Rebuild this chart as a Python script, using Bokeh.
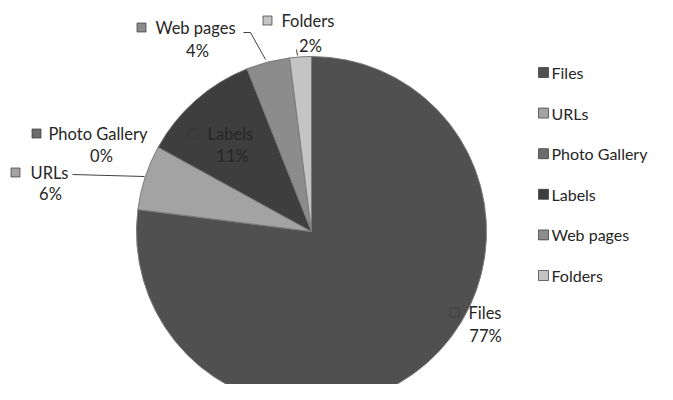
import numpy as np
from bokeh.plotting import figure
from bokeh.models import Range1d, ColumnDataSource
from bokeh.core.properties import value
from bokeh.embed import file_html
from bokeh.resources import INLINE

# ---- data ----
categories = ["Files", "URLs", "Photo Gallery", "Labels", "Web pages", "Folders"]
shares = [77, 6, 0, 11, 4, 2]
pct_labels = ["77%", "6%", "0%", "11%", "4%", "2%"]

# ---- styles ----
colors = ["#505050", "#a3a3a3", "#6c6c6c", "#3e3e3e", "#8c8c8c", "#c4c4c4"]
FONT = value("Lato")
FS = "16.5px"
LEG_FS = "16px"
TXT = "#262626"

W, H = 657, 384
p = figure(width=W, height=H, output_backend="svg", toolbar_location=None,
           x_range=Range1d(0, W), y_range=Range1d(0, H),
           min_border=0, outline_line_color=None)
p.axis.visible = False
p.grid.visible = False
p.background_fill_color = "white"
p.border_fill_color = "white"

# pie (clockwise from 12 o'clock); zero-size slices are not drawn
cx, cy, r = 311, 153, 175
vals = np.array(shares, dtype=float)
frac = vals / vals.sum()
cum = np.concatenate([[0], np.cumsum(frac)])
start = np.pi / 2 - cum[:-1] * 2 * np.pi
end = np.pi / 2 - cum[1:] * 2 * np.pi
keep = vals > 0
src = ColumnDataSource(dict(start=start[keep], end=end[keep],
                            color=list(np.array(colors)[keep]),
                            name=list(np.array(categories)[keep])))
p.wedge(x=cx, y=cy, radius=r, start_angle="start", end_angle="end",
        direction="clock", fill_color="color", line_color="#7a7a7a",
        line_width=1, source=src)

# data labels: (square x, name-left x, name y, pct center x, pct y) in layout px
lab_layout = {
    "Files":         (454, 468, 72, 485, 49),
    "URLs":          (15, 30, 212, 50, 191),
    "Photo Gallery": (36, 48, 251, 101, 229),
    "Labels":        (193, 207, 251, 232, 229),
    "Web pages":     (141, 155, 357, 197, 334),
    "Folders":       (267, 281, 364, 310, 339),
}
for name, col, pct in zip(categories, colors, pct_labels):
    sx, nx, ny, px_, py = lab_layout[name]
    p.scatter([sx], [ny], marker="square", size=9, fill_color=col,
              line_color="#333333", line_width=0.7)
    p.text([nx], [ny], text=[name], text_font=FONT, text_font_size=FS,
           text_color=TXT, text_baseline="middle", text_align="left")
    p.text([px_], [py], text=[pct], text_font=FONT, text_font_size=FS,
           text_color=TXT, text_baseline="middle", text_align="center")

# leader lines
p.line([243, 250, 265], [352, 352, 325], line_color="#404040", line_width=1)
p.line([296, 297], [335, 329], line_color="#404040", line_width=1)
p.line([72, 144], [210, 208], line_color="#404040", line_width=1)

# legend
lx, ly0, step = 543, 312, -40.6
for i, (name, col) in enumerate(zip(categories, colors)):
    y = ly0 + i * step
    p.scatter([lx], [y], marker="square", size=10, fill_color=col,
              line_color="#333333", line_width=0.7)
    p.text([lx + 8], [y], text=[name], text_font=FONT, text_font_size=LEG_FS,
           text_color=TXT, text_baseline="middle", text_align="left")

open("out.html", "w").write(file_html(p, INLINE))
